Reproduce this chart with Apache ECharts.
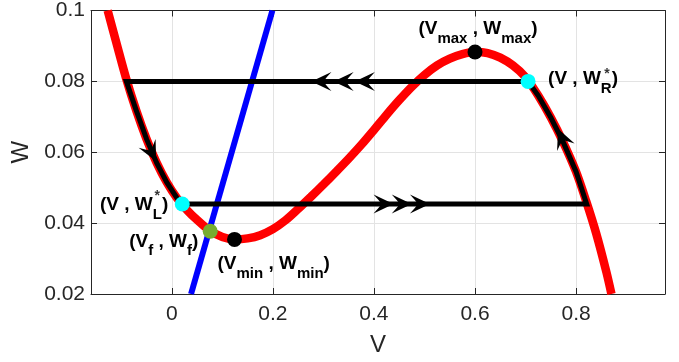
<!DOCTYPE html>
<html><head><meta charset="utf-8">
<script src="https://cdn.jsdelivr.net/npm/echarts@6/dist/echarts.min.js"></script>
<style>html,body{margin:0;padding:0;background:#fff}#c{width:679px;height:362px}</style>
</head><body><div id="c"></div>
<script>
// W-nullcline (red cubic)
const redV = [-0.127, -0.110, -0.090, -0.070, -0.050, -0.030, -0.010, 0.010, 0.030, 0.050, 0.075, 0.100, 0.125, 0.150, 0.175, 0.200, 0.225, 0.250, 0.275, 0.300, 0.325, 0.350, 0.375, 0.400, 0.425, 0.450, 0.475, 0.500, 0.525, 0.550, 0.575, 0.600, 0.625, 0.650, 0.675, 0.700, 0.725, 0.750, 0.775, 0.800, 0.820, 0.840, 0.860, 0.870];
const redW = [0.1000, 0.0910, 0.0806, 0.0716, 0.0637, 0.0570, 0.0515, 0.0471, 0.0437, 0.0409, 0.0379, 0.0361, 0.0354, 0.0357, 0.0366, 0.0383, 0.0408, 0.0440, 0.0474, 0.0509, 0.0545, 0.0582, 0.0621, 0.0663, 0.0706, 0.0747, 0.0785, 0.0818, 0.0845, 0.0864, 0.0877, 0.0883, 0.0880, 0.0867, 0.0845, 0.0812, 0.0760, 0.0698, 0.0627, 0.0545, 0.0462, 0.0370, 0.0262, 0.0200];
// blue nullcline (straight line)
const blueV = [0.038, 0.199];
const blueW = [0.020, 0.100];
// black relaxation trajectory
const trajV = [0.0206, 0.821, 0.800, 0.775, 0.750, 0.725, 0.705, -0.090, -0.070, -0.050, -0.030, -0.010, 0.010, 0.0206];
const trajW = [0.0454, 0.0454, 0.0545, 0.0627, 0.0698, 0.0760, 0.0800, 0.0800, 0.0716, 0.0637, 0.0570, 0.0515, 0.0471, 0.0454];
// arrow heads on trajectory (centres) and their directions in degrees
const arrowV = [0.296, 0.340, 0.382, 0.419, 0.455, 0.491, -0.040, 0.772];
const arrowW = [0.080, 0.080, 0.080, 0.0454, 0.0454, 0.0454, 0.0600, 0.0640];
const arrowDir = [180, 180, 180, 0, 0, 0, -63, 113];
// marked points
const pointV = [0.600, 0.124, 0.0206, 0.705, 0.076];
const pointW = [0.0883, 0.0354, 0.0454, 0.080, 0.0377];
const pointText = ['{m|(V}{s|max}{m| , W}{s|max}{m|)}', '{m|(V}{s|min}{m| , W}{s|min}{m|)}', '{m|(V , W}{s|L}{m|)}', '{m|(V , W}{s|R}{m|)}', '{m|(V}{s|f}{m| , W}{s|f}{m|)}'];
const starPointIdx = [2, 3];
// ticks
const xTicks = [0, 0.2, 0.4, 0.6, 0.8];
const xTickLabels = ['0', '0.2', '0.4', '0.6', '0.8'];
const yTicks = [0.02, 0.04, 0.06, 0.08, 0.1];
const yTickLabels = ['0.02', '0.04', '0.06', '0.08', '0.1'];

const pointColors = ['#000000', '#000000', '#00FFFF', '#00FFFF', '#77AC30'];
const pointLabelLayout = [
  {align: 'center', offset: [3, -19]},
  {align: 'left', offset: [-17, 28]},
  {align: 'right', offset: [-14, 5]},
  {align: 'left', offset: [20, 1]},
  {align: 'right', offset: [-12, 14]}
];
const starLayout = [[-25, -7.5], [79, -7]];

const FONT = '"Liberation Sans", Arial, Helvetica, sans-serif';
const AX = '#262626';
const rich = {
  m: {fontSize: 19, fontWeight: 'bold', color: '#000', fontFamily: FONT, lineHeight: 20, verticalAlign: 'top'},
  s: {fontSize: 15, fontWeight: 'bold', color: '#000', fontFamily: FONT, lineHeight: 27, verticalAlign: 'bottom'}
};
const zip = (a, b) => a.map((v, i) => [v, b[i]]);

const arrowPath = 'path://M20,9 L0,0 Q5,5 8,9 Q5,13 0,18 Z';

const chart = echarts.init(document.getElementById('c'), null, {renderer: 'canvas'});
const xLabelFmt = v => { const i = xTicks.findIndex(t => Math.abs(t - v) < 1e-9); return i >= 0 ? xTickLabels[i] : ''; };
const yLabelFmt = v => { const i = yTicks.findIndex(t => Math.abs(t - v) < 1e-9); return i >= 0 ? yTickLabels[i] : ''; };

const option = {
  animation: false,
  backgroundColor: '#fff',
  grid: {left: 91, top: 7, right: 14, bottom: 67, containLabel: false},
  xAxis: [
    {type: 'value', min: -0.16, max: 0.976, position: 'bottom',
     name: 'V', nameLocation: 'middle', nameGap: 39,
     nameTextStyle: {fontSize: 24, color: AX, fontFamily: FONT},
     axisLine: {show: true, onZero: false, lineStyle: {color: AX, width: 1}},
     axisTick: {show: true, inside: true, length: 6, customValues: xTicks, lineStyle: {color: AX}},
     axisLabel: {show: true, customValues: xTicks, formatter: xLabelFmt, fontSize: 21, color: AX, fontFamily: FONT, margin: 10},
     splitLine: {show: true, lineStyle: {color: '#e3e3e3', width: 1}}},
    {type: 'value', min: -0.16, max: 0.976, position: 'top',
     axisLine: {show: true, onZero: false, lineStyle: {color: AX, width: 1}},
     axisTick: {show: true, inside: true, length: 6, customValues: xTicks, lineStyle: {color: AX}},
     axisLabel: {show: false}, splitLine: {show: false}}
  ],
  yAxis: [
    {type: 'value', min: 0.02, max: 0.1, position: 'left',
     name: 'W', nameLocation: 'middle', nameGap: 47,
     nameTextStyle: {fontSize: 24, color: AX, fontFamily: FONT},
     axisLine: {show: true, onZero: false, lineStyle: {color: AX, width: 1}},
     axisTick: {show: true, inside: true, length: 6, customValues: yTicks, lineStyle: {color: AX}},
     axisLabel: {show: true, customValues: yTicks, formatter: yLabelFmt, fontSize: 21, color: AX, fontFamily: FONT, margin: 6},
     splitLine: {show: true, lineStyle: {color: '#e3e3e3', width: 1}}},
    {type: 'value', min: 0.02, max: 0.1, position: 'right',
     axisLine: {show: true, onZero: false, lineStyle: {color: AX, width: 1}},
     axisTick: {show: true, inside: true, length: 6, customValues: yTicks, lineStyle: {color: AX}},
     axisLabel: {show: false}, splitLine: {show: false}}
  ],
  series: [
    {type: 'line', name: 'red', data: zip(redV, redW), smooth: 0.3, showSymbol: false, symbol: 'none',
     lineStyle: {color: '#FF0000', width: 8.5}, z: 2, silent: true},
    {type: 'line', name: 'blue', data: zip(blueV, blueW), showSymbol: false, symbol: 'none',
     lineStyle: {color: '#0000FF', width: 6}, z: 3, silent: true},
    {type: 'line', name: 'traj', data: zip(trajV, trajW), smooth: false, showSymbol: false, symbol: 'none',
     lineStyle: {color: '#000000', width: 5, join: 'miter'}, z: 4, silent: true},
    {type: 'scatter', name: 'arrows', z: 5, silent: true,
     data: arrowV.map((v, i) => ({value: [v, arrowW[i]], symbolRotate: arrowDir[i]})),
     symbol: arrowPath, symbolSize: [20, 19], itemStyle: {color: '#000000', opacity: 1}},
    {type: 'scatter', name: 'points', z: 6, silent: true, symbol: 'circle', symbolSize: 15,
     data: pointV.map((v, i) => ({
       value: [v, pointW[i]],
       itemStyle: {color: pointColors[i], opacity: 1},
       label: {show: true, position: 'inside', formatter: pointText[i], rich: rich,
               align: pointLabelLayout[i].align, verticalAlign: 'middle', offset: pointLabelLayout[i].offset}
     }))},
    {type: 'scatter', name: 'stars', z: 7, silent: true, symbolSize: 0, symbol: 'circle',
     data: starPointIdx.map((k, j) => ({
       value: [pointV[k], pointW[k]],
       label: {show: true, position: 'inside', formatter: '*', fontSize: 14, fontWeight: 'bold', color: '#000',
               fontFamily: FONT, align: 'center', verticalAlign: 'middle', offset: starLayout[j]}
     }))}
  ]
};
chart.setOption(option);
</script>
</body></html>
